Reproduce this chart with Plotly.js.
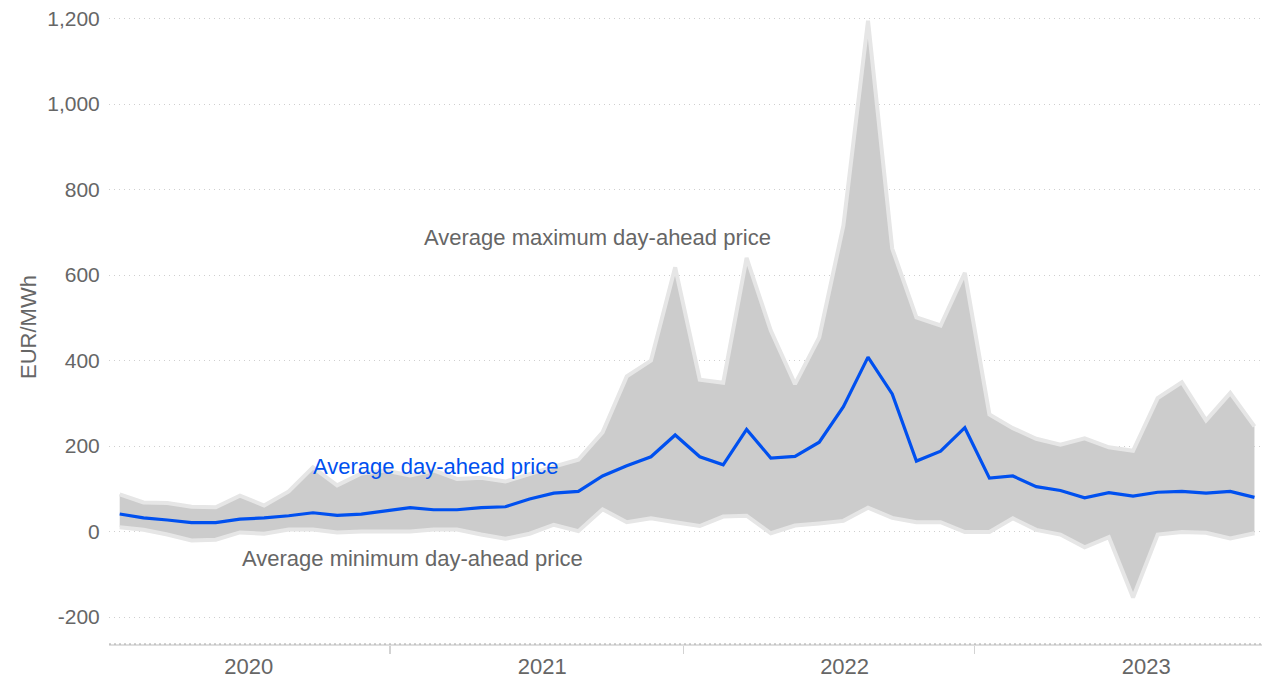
<!DOCTYPE html>
<html>
<head>
<meta charset="utf-8">
<script src="https://cdn.plot.ly/plotly-3.0.1.min.js"></script>
<style>
  html, body { margin: 0; padding: 0; background: #fff; }
  #chart { width: 1263px; height: 678px; }
</style>
</head>
<body>
<div id="chart"></div>
<script>
// Months (Jan 2020 – Dec 2023)
const months = [
  "2020-01","2020-02","2020-03","2020-04","2020-05","2020-06","2020-07","2020-08","2020-09","2020-10","2020-11","2020-12",
  "2021-01","2021-02","2021-03","2021-04","2021-05","2021-06","2021-07","2021-08","2021-09","2021-10","2021-11","2021-12",
  "2022-01","2022-02","2022-03","2022-04","2022-05","2022-06","2022-07","2022-08","2022-09","2022-10","2022-11","2022-12",
  "2023-01","2023-02","2023-03","2023-04","2023-05","2023-06","2023-07","2023-08","2023-09","2023-10","2023-11","2023-12"
];

// Average maximum day-ahead price (EUR/MWh)
const maxPrice = [
  87, 68, 67, 58, 57, 84, 61, 94, 150, 108, 136, 143,
  131, 143, 123, 126, 117, 135, 152, 168, 232, 363, 400, 618,
  355, 348, 640, 470, 345, 454, 716, 1195, 662, 501, 482, 605,
  274, 242, 217, 203, 218, 197, 189, 312, 349, 260, 324, 246
];

// Average day-ahead price (EUR/MWh)
const avgPrice = [
  41, 32, 27, 21, 21, 29, 32, 37, 44, 38, 41, 48,
  56, 51, 51, 56, 58, 76, 90, 94, 130, 154, 175, 226,
  175, 156, 239, 172, 176, 209, 292, 408, 322, 165, 188, 243,
  125, 130, 105, 96, 79, 91, 83, 92, 94, 90, 94, 80
];

// Average minimum day-ahead price (EUR/MWh)
const minPrice = [
  10, 4, -7, -21, -19, -2, -5, 5, 5, -2, 0, -1,
  0, 5, 5, -7, -17, -5, 16, 1, 52, 22, 31, 22,
  13, 35, 37, -4, 14, 19, 25, 56, 32, 22, 22, -1,
  -1, 31, 4, -7, -37, -13, -154, -7, -1, -3, -16, -4
];

// Axis ticks
const yTicks = [-200, 0, 200, 400, 600, 800, 1000, 1200];
const yTickText = ["-200", "0", "200", "400", "600", "800", "1,000", "1,200"];
const yearSeparators = ["2020-12-22", "2021-12-27", "2022-12-29"];
const yearLabelDates = ["2020-06-27", "2021-07-02", "2022-07-18", "2023-08-02"];
const yearLabels = ["2020", "2021", "2022", "2023"];

// Series labels
const seriesLabels = [
  {text: "Average maximum day-ahead price", x: "2021-09-10", y: 687, color: "#666666"},
  {text: "Average day-ahead price", x: "2021-02-18", y: 152, color: "#0050ef"},
  {text: "Average minimum day-ahead price", x: "2021-01-19", y: -63, color: "#666666"}
];

const FONT = '"Liberation Sans", Arial, Helvetica, sans-serif';
const GREY = "#666666";
const BAND_EDGE = "#e6e6e6";
const BAND_FILL = "#cccccc";
const BLUE = "#0050ef";
const X_RANGE = ["2020-01-03", "2023-12-26"];

const common = {x: months, xperiod: "M1", xperiodalignment: "middle", type: "scatter", mode: "lines", hoverinfo: "skip", showlegend: false};

const traces = [
  Object.assign({}, common, {
    y: minPrice, name: "Average minimum day-ahead price",
    line: {color: BAND_EDGE, width: 4}
  }),
  Object.assign({}, common, {
    y: maxPrice, name: "Average maximum day-ahead price",
    fill: "tonexty", fillcolor: BAND_FILL,
    line: {color: BAND_EDGE, width: 4}
  }),
  Object.assign({}, common, {
    y: avgPrice, name: "Average day-ahead price",
    line: {color: BLUE, width: 3.2}
  }),
  // carrier for the year-label axis (draws nothing)
  {
    type: "scatter", mode: "lines", xaxis: "x2", yaxis: "y",
    x: yearLabelDates, y: yearLabelDates.map(function () { return null; }),
    hoverinfo: "skip", showlegend: false, line: {width: 0}
  }
];

const layout = {
  width: 1263,
  height: 678,
  margin: {l: 109, r: 1, t: 10, b: 34},
  paper_bgcolor: "#ffffff",
  plot_bgcolor: "#ffffff",
  font: {family: FONT, color: GREY, size: 21},
  showlegend: false,
  hovermode: false,
  xaxis: {
    type: "date",
    range: X_RANGE,
    tickvals: yearSeparators,
    showticklabels: false,
    ticks: "outside",
    ticklen: 8,
    tickwidth: 1.5,
    tickcolor: "#d3d3d3",
    showgrid: false,
    zeroline: false,
    showline: true,
    linecolor: "#dedede",
    linewidth: 2,
    fixedrange: true
  },
  xaxis2: {
    type: "date",
    overlaying: "x",
    anchor: "y",
    side: "bottom",
    range: X_RANGE,
    tickvals: yearLabelDates,
    ticktext: yearLabels,
    ticks: "outside",
    ticklen: 3,
    tickcolor: "rgba(0,0,0,0)",
    tickfont: {family: FONT, size: 22, color: GREY},
    showgrid: false,
    zeroline: false,
    showline: false,
    fixedrange: true
  },
  yaxis: {
    range: [-263, 1220],
    tickvals: yTicks,
    ticktext: yTickText,
    ticks: "outside",
    ticklen: 4,
    tickcolor: "rgba(0,0,0,0)",
    tickfont: {family: FONT, size: 21, color: GREY},
    showgrid: true,
    gridcolor: "#cfcfcf",
    gridwidth: 1,
    griddash: "1px,4px",
    zeroline: false,
    showline: false,
    fixedrange: true,
    title: {text: "EUR/MWh", font: {family: FONT, size: 22, color: GREY}, standoff: 4}
  },
  shapes: [
    {type: "line", xref: "paper", yref: "paper", x0: 0, x1: 1, y0: 0, y1: 0,
     line: {color: "#a8a8a8", width: 1, dash: "2px,3px"}, layer: "above"}
  ],
  annotations: seriesLabels.map(function (s) {
    return {
      text: s.text, x: s.x, y: s.y, xref: "x", yref: "y",
      showarrow: false, xanchor: "center", yanchor: "middle",
      font: {family: FONT, size: 22, color: s.color}
    };
  })
};

Plotly.newPlot("chart", traces, layout, {displayModeBar: false, staticPlot: true});
</script>
</body>
</html>
